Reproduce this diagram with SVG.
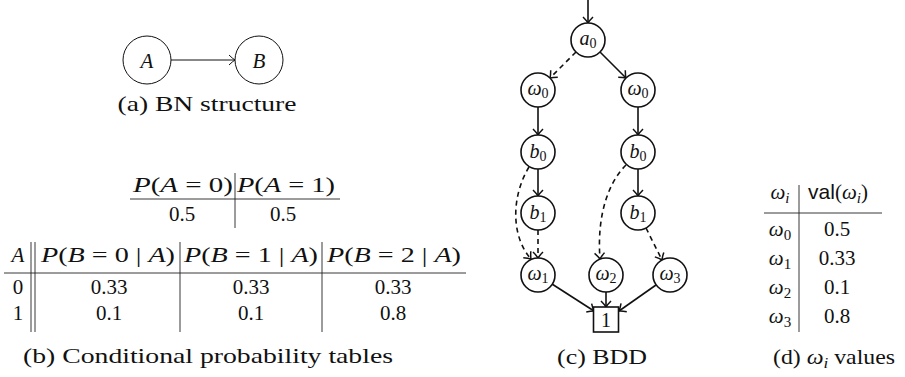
<svg xmlns="http://www.w3.org/2000/svg" width="905" height="377" viewBox="0 0 905 377">
<style>
  .t { font-family: "Liberation Serif", "DejaVu Serif", serif; font-size: 21px; fill: #111; }
  .n { font-family: "Liberation Serif", "DejaVu Serif", serif; font-size: 20px; fill: #111; }
  .it { font-style: italic; }
  .sf { font-family: "Liberation Sans", "DejaVu Sans", sans-serif; }
  .node { fill: #fff; stroke: #111; stroke-width: 1.6; }
  .bn { fill: #fff; stroke: #111; stroke-width: 1; }
  .e { fill: none; stroke: #111; stroke-width: 1.6; marker-end: url(#ah); }
  .d { stroke-dasharray: 5 4; }
  .rule { stroke: #222; stroke-width: 0.9; fill: none; }
</style>
<defs>
  <marker id="ah" viewBox="-8 -7 10 14" refX="0" refY="0" markerWidth="10" markerHeight="14" markerUnits="userSpaceOnUse" orient="auto">
    <path d="M-6,-5 Q-2.5,-1.5 0,0 Q-2.5,1.5 -6,5" fill="none" stroke="#111" stroke-width="1.5"/>
  </marker>
  <marker id="ah1" viewBox="-8 -7 10 14" refX="0" refY="0" markerWidth="10" markerHeight="14" markerUnits="userSpaceOnUse" orient="auto">
    <path d="M-6,-5 Q-2.5,-1.5 0,0 Q-2.5,1.5 -6,5" fill="none" stroke="#111" stroke-width="1"/>
  </marker>
</defs>

<!-- (a) BN structure -->
<g id="bn-edges">
  <line x1="171" y1="60" x2="235" y2="60" stroke="#111" stroke-width="1" marker-end="url(#ah1)"/>
</g>
<g id="bn-A">
  <circle class="bn" cx="147" cy="60" r="24"/>
  <text class="t it" x="147" y="68" text-anchor="middle" font-size="22">A</text>
</g>
<g id="bn-B">
  <circle class="bn" cx="259" cy="60" r="24"/>
  <text class="t it" x="259" y="68" text-anchor="middle" font-size="22">B</text>
</g>
<text class="t" x="207" y="111" text-anchor="middle" textLength="179" lengthAdjust="spacingAndGlyphs">(a) BN structure</text>

<!-- (b) CPTs -->
<g id="cpt-A">
  <text class="t" x="183" y="192" text-anchor="middle" textLength="100" lengthAdjust="spacingAndGlyphs"><tspan class="it">P</tspan>(<tspan class="it">A</tspan> = 0)</text>
  <text class="t" x="286" y="192" text-anchor="middle" textLength="98" lengthAdjust="spacingAndGlyphs"><tspan class="it">P</tspan>(<tspan class="it">A</tspan> = 1)</text>
  <line class="rule" x1="130" y1="199" x2="340" y2="199"/>
  <line class="rule" x1="235" y1="173" x2="235" y2="228"/>
  <text class="t" x="182" y="221" text-anchor="middle">0.5</text>
  <text class="t" x="283" y="221" text-anchor="middle">0.5</text>
</g>
<g id="cpt-B">
  <text class="t it" x="18" y="262" text-anchor="middle">A</text>
  <text class="t" x="108" y="262" text-anchor="middle" textLength="134" lengthAdjust="spacingAndGlyphs"><tspan class="it">P</tspan>(<tspan class="it">B</tspan> = 0 | <tspan class="it">A</tspan>)</text>
  <text class="t" x="251" y="262" text-anchor="middle" textLength="134" lengthAdjust="spacingAndGlyphs"><tspan class="it">P</tspan>(<tspan class="it">B</tspan> = 1 | <tspan class="it">A</tspan>)</text>
  <text class="t" x="394" y="262" text-anchor="middle" textLength="134" lengthAdjust="spacingAndGlyphs"><tspan class="it">P</tspan>(<tspan class="it">B</tspan> = 2 | <tspan class="it">A</tspan>)</text>
  <line class="rule" x1="4" y1="273" x2="466" y2="273"/>
  <line class="rule" x1="31" y1="242" x2="31" y2="332"/>
  <line class="rule" x1="35" y1="242" x2="35" y2="332"/>
  <line class="rule" x1="180" y1="242" x2="180" y2="332"/>
  <line class="rule" x1="322" y1="242" x2="322" y2="332"/>
  <text class="t" x="18" y="294" text-anchor="middle">0</text>
  <text class="t" x="109" y="294" text-anchor="middle">0.33</text>
  <text class="t" x="251" y="294" text-anchor="middle">0.33</text>
  <text class="t" x="393" y="294" text-anchor="middle">0.33</text>
  <text class="t" x="18" y="320" text-anchor="middle">1</text>
  <text class="t" x="109" y="320" text-anchor="middle">0.1</text>
  <text class="t" x="251" y="320" text-anchor="middle">0.1</text>
  <text class="t" x="393" y="320" text-anchor="middle">0.8</text>
</g>
<text class="t" x="208" y="363" text-anchor="middle" textLength="370" lengthAdjust="spacingAndGlyphs">(b) Conditional probability tables</text>

<!-- (c) BDD -->
<g id="bdd-edges">
  <line class="e" x1="588" y1="0" x2="588" y2="23"/>
  <line class="e d" x1="576" y1="52" x2="550" y2="78"/>
  <line class="e" x1="600" y1="52" x2="626" y2="78"/>
  <line class="e" x1="538" y1="107" x2="538" y2="135"/>
  <line class="e" x1="638" y1="107" x2="638" y2="135"/>
  <line class="e" x1="538" y1="169" x2="538" y2="196"/>
  <line class="e" x1="638" y1="169" x2="638" y2="196"/>
  <line class="e d" x1="538" y1="230" x2="538" y2="258"/>
  <path class="e d" d="M529,167 C512,195 510,235 531,259"/>
  <path class="e d" d="M626,165 C606,185 597,220 600,259"/>
  <line class="e d" x1="646" y1="228" x2="662" y2="260"/>
  <line class="e" x1="552" y1="284" x2="594" y2="311"/>
  <line class="e" x1="606" y1="292" x2="606" y2="307"/>
  <line class="e" x1="656" y1="285" x2="619" y2="311"/>
</g>
<g id="n-a0">
  <circle class="node" cx="588" cy="40" r="17"/>
  <text class="n" x="588" y="45" text-anchor="middle"><tspan class="it">a</tspan><tspan font-size="14" dy="3">0</tspan></text>
</g>
<g id="n-w0L">
  <circle class="node" cx="538" cy="90" r="17"/>
  <text class="n" x="538" y="95" text-anchor="middle"><tspan class="it">ω</tspan><tspan font-size="14" dy="3">0</tspan></text>
</g>
<g id="n-w0R">
  <circle class="node" cx="638" cy="90" r="17"/>
  <text class="n" x="638" y="95" text-anchor="middle"><tspan class="it">ω</tspan><tspan font-size="14" dy="3">0</tspan></text>
</g>
<g id="n-b0L">
  <circle class="node" cx="538" cy="152" r="17"/>
  <text class="n" x="538" y="158" text-anchor="middle"><tspan class="it">b</tspan><tspan font-size="14" dy="3">0</tspan></text>
</g>
<g id="n-b0R">
  <circle class="node" cx="638" cy="152" r="17"/>
  <text class="n" x="638" y="158" text-anchor="middle"><tspan class="it">b</tspan><tspan font-size="14" dy="3">0</tspan></text>
</g>
<g id="n-b1L">
  <circle class="node" cx="538" cy="213" r="17"/>
  <text class="n" x="538" y="219" text-anchor="middle"><tspan class="it">b</tspan><tspan font-size="14" dy="3">1</tspan></text>
</g>
<g id="n-b1R">
  <circle class="node" cx="638" cy="213" r="17"/>
  <text class="n" x="638" y="219" text-anchor="middle"><tspan class="it">b</tspan><tspan font-size="14" dy="3">1</tspan></text>
</g>
<g id="n-w1">
  <circle class="node" cx="538" cy="275" r="17"/>
  <text class="n" x="538" y="280" text-anchor="middle"><tspan class="it">ω</tspan><tspan font-size="14" dy="3">1</tspan></text>
</g>
<g id="n-w2">
  <circle class="node" cx="606" cy="275" r="17"/>
  <text class="n" x="606" y="280" text-anchor="middle"><tspan class="it">ω</tspan><tspan font-size="14" dy="3">2</tspan></text>
</g>
<g id="n-w3">
  <circle class="node" cx="670" cy="275" r="17"/>
  <text class="n" x="670" y="280" text-anchor="middle"><tspan class="it">ω</tspan><tspan font-size="14" dy="3">3</tspan></text>
</g>
<g id="n-one">
  <rect class="node" x="593.5" y="307" width="25" height="25"/>
  <text class="n" x="606" y="327" text-anchor="middle">1</text>
</g>
<text class="t" x="602" y="364" text-anchor="middle" textLength="90" lengthAdjust="spacingAndGlyphs">(c) BDD</text>

<!-- (d) omega values -->
<g id="val-table">
  <text class="t" x="780" y="199" text-anchor="middle"><tspan class="it">ω</tspan><tspan class="it" font-size="15" dy="4">i</tspan></text>
  <text class="t" x="838" y="199" text-anchor="middle"><tspan class="sf">val</tspan>(<tspan class="it">ω</tspan><tspan class="it" font-size="15" dy="4">i</tspan><tspan dy="-4">)</tspan></text>
  <line class="rule" x1="764" y1="213" x2="882" y2="213"/>
  <line class="rule" x1="799" y1="185" x2="799" y2="332"/>
  <text class="t" x="780" y="236" text-anchor="middle"><tspan class="it">ω</tspan><tspan font-size="15" dy="4">0</tspan></text>
  <text class="t" x="837" y="236" text-anchor="middle">0.5</text>
  <text class="t" x="780" y="265" text-anchor="middle"><tspan class="it">ω</tspan><tspan font-size="15" dy="4">1</tspan></text>
  <text class="t" x="837" y="265" text-anchor="middle">0.33</text>
  <text class="t" x="780" y="294" text-anchor="middle"><tspan class="it">ω</tspan><tspan font-size="15" dy="4">2</tspan></text>
  <text class="t" x="837" y="294" text-anchor="middle">0.1</text>
  <text class="t" x="780" y="323" text-anchor="middle"><tspan class="it">ω</tspan><tspan font-size="15" dy="4">3</tspan></text>
  <text class="t" x="837" y="323" text-anchor="middle">0.8</text>
</g>
<text class="t" x="834" y="364" text-anchor="middle" textLength="122" lengthAdjust="spacingAndGlyphs">(d) <tspan class="it">ω</tspan><tspan class="it" font-size="15" dy="4">i</tspan><tspan dy="-4"> values</tspan></text>
</svg>
